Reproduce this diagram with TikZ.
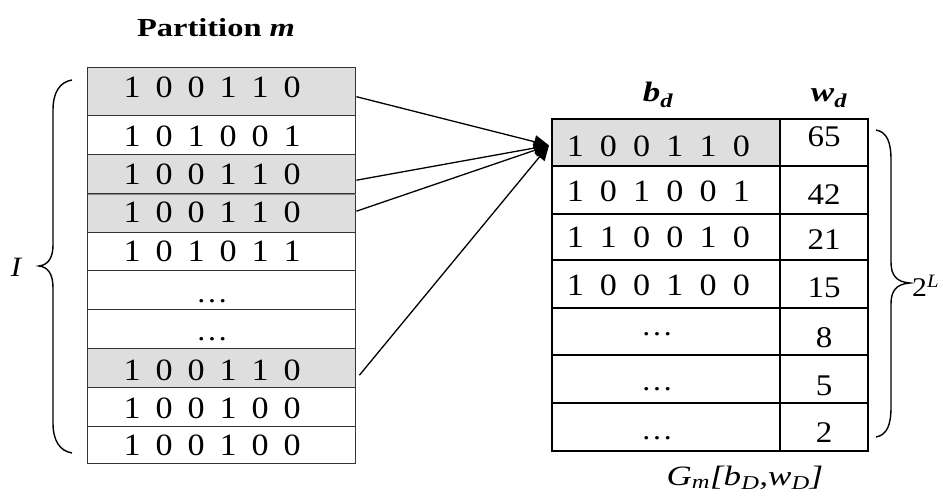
\documentclass[tikz,border=0pt]{standalone}
\usepackage{fontspec}
\setmainfont[FakeStretch=1.1]{Liberation Serif}
\newfontfamily\widefont[FakeStretch=1.25]{Liberation Serif}
\usetikzlibrary{arrows.meta}
\newlength\bitpitch
\newcommand\sixbits[6]{\makebox[\bitpitch]{#1}\makebox[\bitpitch]{#2}\makebox[\bitpitch]{#3}\makebox[\bitpitch]{#4}\makebox[\bitpitch]{#5}\makebox[\bitpitch]{#6}}
\begin{document}
\begin{tikzpicture}[x=1pt,y=-1pt,
  lcell/.style={draw=black!80, line width=1.4pt, inner sep=0pt, minimum width=268pt, anchor=north west},
  rcellb/.style={draw=black, line width=1.8pt, inner sep=0pt, minimum width=228pt, anchor=north west},
  rcellw/.style={draw=black, line width=1.8pt, inner sep=0pt, minimum width=88pt, anchor=north west},
  shade/.style={fill=black!13},
  bitsL/.style={anchor=base west, inner sep=0pt, font=\fontsize{31}{31}\selectfont, execute at begin node={\setlength\bitpitch{32pt}}},
  bitsR/.style={anchor=base west, inner sep=0pt, font=\fontsize{31}{31}\selectfont, execute at begin node={\setlength\bitpitch{33.2pt}}},
  dotsL/.style={anchor=base, inner sep=0pt, font=\fontsize{29}{29}\selectfont},
  wt/.style={anchor=base, inner sep=0pt, font=\fontsize{30}{30}\selectfont},
  lbl/.style={anchor=base, inner sep=0pt},
  arr/.style={line width=1.3pt, -{Triangle[length=15pt,width=13pt]}},
  brace/.style={line width=1.4pt}
]
\useasboundingbox (0,0) rectangle (943,497);

% left table
\node[lcell, shade, minimum height=48pt] (L1) at (87,67) {};
\node[lcell, minimum height=39pt] (L2) at (87,115) {};
\node[lcell, shade, minimum height=39pt] (L3) at (87,154) {};
\node[lcell, shade, minimum height=39pt] (L4) at (87,193) {};
\node[lcell, minimum height=38pt] (L5) at (87,232) {};
\node[lcell, minimum height=39pt] (L6) at (87,270) {};
\node[lcell, minimum height=39pt] (L7) at (87,309) {};
\node[lcell, shade, minimum height=39pt] (L8) at (87,348) {};
\node[lcell, minimum height=39pt] (L9) at (87,387) {};
\node[lcell, minimum height=37pt] (L10) at (87,426) {};
\draw[black!13, line width=1.6pt] ([xshift=0.7pt]L3.south west) -- ([xshift=-0.7pt]L3.south east);
\draw[white!55!black, line width=0.6pt] ([xshift=0.7pt]L3.south west) -- ([xshift=-0.7pt]L3.south east);

\node[bitsL] (tL1) at (116,98) {\sixbits100110};
\node[bitsL] (tL2) at (116,147) {\sixbits101001};
\node[bitsL] (tL3) at (116,185) {\sixbits100110};
\node[bitsL] (tL4) at (116,223) {\sixbits100110};
\node[bitsL] (tL5) at (116,262) {\sixbits101011};
\node[dotsL] (tL6) at (212,302) {\ldots};
\node[dotsL] (tL7) at (212,341) {\ldots};
\node[bitsL] (tL8) at (116,380) {\sixbits100110};
\node[bitsL] (tL9) at (116,418) {\sixbits100100};
\node[bitsL] (tL10) at (116,455) {\sixbits100100};

% right table
\node[rcellb, shade, minimum height=47pt] (B1) at (551,118) {};
\node[rcellb, minimum height=48pt] (B2) at (551,165) {};
\node[rcellb, minimum height=46pt] (B3) at (551,213) {};
\node[rcellb, minimum height=48pt] (B4) at (551,259) {};
\node[rcellb, minimum height=47pt] (B5) at (551,307) {};
\node[rcellb, minimum height=48pt] (B6) at (551,354) {};
\node[rcellb, minimum height=48pt] (B7) at (551,402) {};
\node[rcellw, minimum height=47pt] (W1) at (779,118) {};
\node[rcellw, minimum height=48pt] (W2) at (779,165) {};
\node[rcellw, minimum height=46pt] (W3) at (779,213) {};
\node[rcellw, minimum height=48pt] (W4) at (779,259) {};
\node[rcellw, minimum height=47pt] (W5) at (779,307) {};
\node[rcellw, minimum height=48pt] (W6) at (779,354) {};
\node[rcellw, minimum height=48pt] (W7) at (779,402) {};

\node[bitsR] (tB1) at (558.5,157) {\sixbits100110};
\node[bitsR] (tB2) at (558.5,202) {\sixbits101001};
\node[bitsR] (tB3) at (558.5,248) {\sixbits110010};
\node[bitsR] (tB4) at (558.5,295) {\sixbits100100};
\node[dotsL] (tB5) at (657,335) {\ldots};
\node[dotsL] (tB6) at (657,390) {\ldots};
\node[dotsL] (tB7) at (657,439) {\ldots};

\node[wt] (tW1) at (824,147) {65};
\node[wt] (tW2) at (824,205) {42};
\node[wt] (tW3) at (824,250) {21};
\node[wt] (tW4) at (824,298) {15};
\node[wt] (tW5) at (824,347) {8};
\node[wt] (tW6) at (824,395) {5};
\node[wt] (tW7) at (824,442) {2};

% headings
\node[lbl, font=\widefont\fontsize{26}{26}\selectfont\bfseries] (title) at (216,37) {Partition \textit{m}};
\node[lbl, font=\widefont\fontsize{28}{28}\selectfont\bfseries\itshape] (hb) at (658,102) {b\textsubscript{d}};
\node[lbl, font=\widefont\fontsize{28}{28}\selectfont\bfseries\itshape] (hw) at (829,102) {w\textsubscript{d}};
\node[lbl, font=\widefont\fontsize{28}{28}\selectfont\itshape] (cap) at (745,485) {G\textsubscript{m}[b\textsubscript{D},w\textsubscript{D}]};
\node[lbl, font=\fontsize{28}{28}\selectfont\itshape] (lI) at (16,277) {I};
\node[anchor=base west, inner sep=0pt, font=\fontsize{27}{27}\selectfont] (two) at (912,297) {2\textsuperscript{\textit{L}}};

% arrows
\draw[arr] ([yshift=-5pt]L1.east) -- ([xshift=-2pt,yshift=-3pt]B1.west);
\draw[arr] ([yshift=-6pt]L3.east) -- ([xshift=-2pt,yshift=-3pt]B1.west);
\draw[arr] ([yshift=2pt]L4.east) -- ([xshift=-2pt,yshift=-3pt]B1.west);
\draw[arr] ([xshift=3pt,yshift=-7pt]L8.east) -- ([xshift=-2pt,yshift=-3pt]B1.west);

% braces
\draw[brace] (72,80) .. controls (60,82) and (53,92) .. (53,110) -- (53,245)
  .. controls (53,258) and (48,265) .. (39,266)
  .. controls (48,267) and (53,274) .. (53,288) -- (53,423)
  .. controls (53,441) and (60,451) .. (72,453);
\draw[brace] (876,130) .. controls (887,132) and (891,142) .. (891,160) -- (891,262)
  .. controls (891,275) and (896,282) .. (910,283)
  .. controls (896,284) and (891,291) .. (891,304) -- (891,407)
  .. controls (891,425) and (887,435) .. (876,437);
\end{tikzpicture}
\end{document}
